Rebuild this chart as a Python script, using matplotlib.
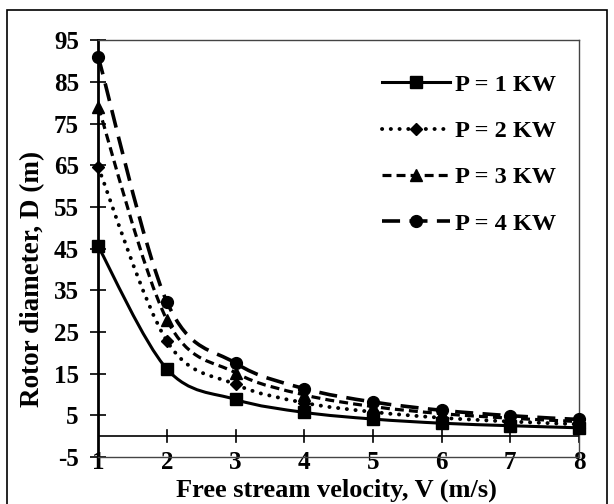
import matplotlib
matplotlib.use("Agg")
import matplotlib.pyplot as plt
from matplotlib.path import Path
from matplotlib.patches import PathPatch, Rectangle
from matplotlib.lines import Line2D

plt.rcParams['font.family'] = ['Liberation Serif', 'DejaVu Serif']
plt.rcParams['font.weight'] = 'bold'
plt.rcParams['axes.unicode_minus'] = False

velocity = [1, 2, 3, 4, 5, 6, 7, 8]
d_1kw = [45.5, 16.1, 8.8, 5.7, 4.1, 3.1, 2.5, 2.0]
d_2kw = [64.5, 22.8, 12.4, 8.0, 5.8, 4.4, 3.5, 2.85]
d_3kw = [79.0, 27.9, 15.2, 9.9, 7.1, 5.4, 4.3, 3.5]
d_4kw = [91.0, 32.2, 17.5, 11.4, 8.2, 6.2, 4.9, 4.0]
labels = ['P = 1 KW', 'P = 2 KW', 'P = 3 KW', 'P = 4 KW']


def smooth_path(x, y):
    # excel-like smoothed line: cubic bezier through the points
    pts = list(zip(x, y))
    verts = [pts[0]]
    codes = [Path.MOVETO]
    n = len(pts)
    for i in range(n - 1):
        p0 = pts[i - 1] if i > 0 else pts[i]
        p1 = pts[i]
        p2 = pts[i + 1]
        p3 = pts[i + 2] if i + 2 < n else pts[i + 1]
        c1 = (p1[0] + (p2[0] - p0[0]) / 6, p1[1] + (p2[1] - p0[1]) / 6)
        c2 = (p2[0] - (p3[0] - p1[0]) / 6, p2[1] - (p3[1] - p1[1]) / 6)
        verts += [c1, c2, p2]
        codes += [Path.CURVE4] * 3
    return Path(verts, codes)


fig = plt.figure(figsize=(6.14, 5.04), dpi=100)
ax = fig.add_axes([0.160, 0.0933, 0.783, 0.827])

# outer border
fig.patches.append(Rectangle((7 / 614, -0.05), 600 / 614, 1.05 - 10 / 504,
                             transform=fig.transFigure, fill=False,
                             edgecolor='black', linewidth=1.2))

styles = [
    dict(marker='s', dashes=None, cap='butt', lw=2.2, ms=8),
    dict(marker='D', dashes=(0.05, 2.2), cap='round', lw=2.8, ms=6.5),
    dict(marker='^', dashes=(2.8, 1.6), cap='butt', lw=2.3, ms=8),
    dict(marker='o', dashes=(5.0, 2.6), cap='butt', lw=2.6, ms=8.5),
]
series = [d_1kw, d_2kw, d_3kw, d_4kw]

handles = []
for d, st, lab in zip(series, styles, labels):
    patch = PathPatch(smooth_path(velocity, d), fill=False, edgecolor='black',
                      linewidth=st['lw'], capstyle=st['cap'], zorder=3)
    if st['dashes'] is not None:
        patch.set_linestyle((0, st['dashes']))
    ax.add_patch(patch)
    ax.plot(velocity, d, linestyle='none', marker=st['marker'], color='black',
            markersize=st['ms'], zorder=4, clip_on=False)
    h = Line2D([], [], color='black', linewidth=st['lw'], marker=st['marker'],
               markersize=st['ms'])
    if st['dashes'] is not None:
        h.set_dashes(st['dashes'])
        h.set_dash_capstyle(st['cap'])
    handles.append(h)

ax.set_xlim(1, 8)
ax.set_ylim(-5, 95)
ax.set_yticks(range(-5, 96, 10))
ax.set_xticks(velocity)

# x axis crossing at zero
ax.axhline(0, color='black', linewidth=1.2, zorder=2)
for v in velocity[1:]:
    ax.plot([v, v], [-1.5, 1.5], color='black', linewidth=1.2, zorder=2)

for s in ['top', 'right', 'bottom']:
    ax.spines[s].set_color('#444444')
    ax.spines[s].set_linewidth(1.0)
ax.spines['left'].set_linewidth(2.0)
ax.spines['left'].set_color('black')

ax.tick_params(axis='y', direction='inout', length=12, width=1.2,
               labelsize=18, pad=8)
ax.tick_params(axis='x', length=0, labelsize=18, pad=-4)

ax.set_xlabel('Free stream velocity, V (m/s)', fontsize=19,
              fontweight='bold', va='center')
ax.xaxis.set_label_coords(0.495, -0.080)
ax.set_ylabel('Rotor diameter, D (m)', fontsize=19.5, fontweight='bold',
              va='center')
ax.yaxis.set_label_coords(-0.137, 0.427)

ax.legend(handles, labels, loc='upper right', frameon=False, fontsize=17.5,
          handlelength=2.8, handletextpad=0.2, labelspacing=1.0,
          bbox_to_anchor=(0.997, 0.972))

fig.savefig('out.png', dpi=100)
